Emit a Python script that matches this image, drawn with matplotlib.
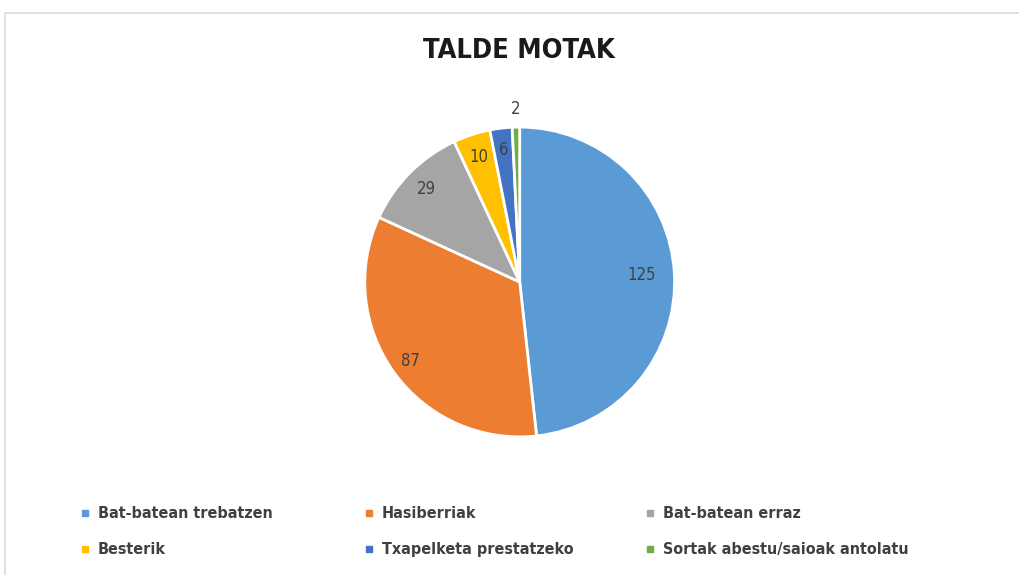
import numpy as np
import matplotlib
matplotlib.use("Agg")
import matplotlib.pyplot as plt
from matplotlib.lines import Line2D
from matplotlib.patches import Rectangle

plt.rcParams['font.family'] = ['DejaVu Sans']
plt.rcParams['font.stretch'] = 'condensed'

categories = ["Bat-batean trebatzen", "Hasiberriak", "Bat-batean erraz",
              "Besterik", "Txapelketa prestatzeko", "Sortak abestu/saioak antolatu"]
values = [125, 87, 29, 10, 6, 2]
colors = ["#5B9BD5", "#ED7D31", "#A5A5A5", "#FFC000", "#4472C4", "#70AD47"]
# distance of each value label from the centre (fraction of radius)
label_r = [0.79, 0.87, 0.85, 0.85, 0.86, 1.12]

fig = plt.figure(figsize=(10.19, 5.75), dpi=100)
fig.patch.set_facecolor("white")

# chart frame like the spreadsheet chart area
fig.add_artist(Rectangle((5 / 1019, -0.05), 1.1, 1 - 13 / 575 + 0.05,
                         transform=fig.transFigure, fill=False,
                         edgecolor="#d9d9d9", linewidth=1.2))

fig.text(0.509, 1 - 51 / 575, "TALDE MOTAK", ha="center", va="center",
         fontsize=19.5, fontweight="bold", color="#1a1a1a")

ax = fig.add_axes([0.510 - 0.152, 0.5096 - 0.2695, 0.304, 0.539])
wedges, _ = ax.pie(values, colors=colors, startangle=90, counterclock=False,
                   wedgeprops=dict(edgecolor="white", linewidth=2))
ax.set_xlim(-1, 1)
ax.set_ylim(-1, 1)
ax.set_aspect("equal")

for w, v, r in zip(wedges, values, label_r):
    ang = np.deg2rad((w.theta1 + w.theta2) / 2)
    ax.text(r * np.cos(ang), r * np.sin(ang), str(v), ha="center", va="center",
            fontsize=12, color="#404040", clip_on=False)

# legend: three columns of two rows
col_x = [66 / 1019, 350 / 1019, 631 / 1019]
for c in range(3):
    idx = [c, c + 3]
    handles = [Line2D([], [], marker="s", linestyle="none", markersize=5,
                      markerfacecolor=colors[i], markeredgecolor=colors[i]) for i in idx]
    leg = fig.legend(handles, [categories[i] for i in idx], loc="upper left",
                     bbox_to_anchor=(col_x[c], 1 - 492 / 575), frameon=False,
                     handlelength=0.6, handletextpad=0.5, labelspacing=1.3,
                     prop=dict(size=11.5, weight="bold", stretch="condensed"),
                     labelcolor="#404040")

fig.savefig("out.png", dpi=100)
